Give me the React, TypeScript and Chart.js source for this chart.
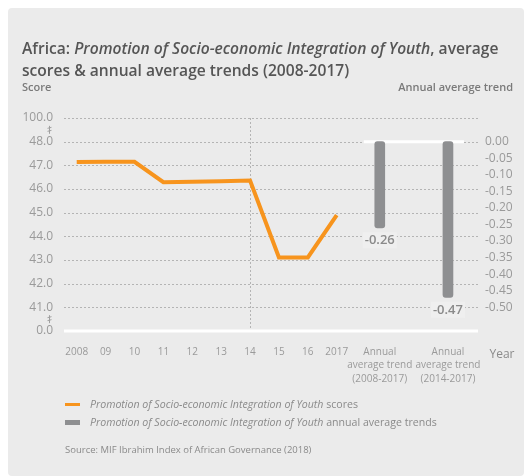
import React, { useEffect, useRef } from "react";
import { Chart, registerables } from "chart.js";

Chart.register(...registerables);

// ---- data ----
const yearLabels = ["2008", "09", "10", "11", "12", "13", "14", "15", "16", "2017"];
const scores = [47.14, 47.15, 47.15, 46.29, 46.31, 46.33, 46.36, 43.11, 43.11, 44.9];
const trendLabels = [
  ["Annual", "average trend", "(2008-2017)"],
  ["Annual", "average trend", "(2014-2017)"],
];
const trendValues = [-0.26, -0.47];
const scoreTickLabels = ["0.0", "41.0", "42.0", "43.0", "44.0", "45.0", "46.0", "47.0", "48.0", "100.0"];
const trendTicks = [0, -0.05, -0.1, -0.15, -0.2, -0.25, -0.3, -0.35, -0.4, -0.45, -0.5];

// axis break: scores 41..48 sit at slots 1..8 of the left axis
const SCORE_OFFSET = 40;
// slots of the two trend bars on the x axis (years occupy slots 0..9)
const trendSlots = [10.49, 12.85];

const ORANGE = "#F7941D";
const BAR_GRAY = "#8e8f91";
const GRID = "#b4b4b4";
const TICK = "#9a9a9a";
const FONT = "'Open Sans', 'Noto Sans', sans-serif";

const decorPlugin = {
  id: "decor",
  beforeDatasetsDraw(chart: any) {
    const ctx = chart.ctx;
    const x = chart.scales.x;
    const y = chart.scales.y;
    const y2 = chart.scales.y2;
    const L = x.left;
    const R = x.right;
    const T = y.top;
    const B = y.bottom;
    ctx.save();
    ctx.strokeStyle = GRID;
    ctx.lineWidth = 1;
    ctx.setLineDash([2, 2]);
    for (let i = 1; i < scoreTickLabels.length; i++) {
      const gy = Math.round(y.getPixelForValue(i)) + 0.5;
      ctx.beginPath();
      ctx.moveTo(L, gy);
      ctx.lineTo(R, gy);
      ctx.stroke();
    }
    const vx = Math.round(x.getPixelForValue(6)) + 0.5;
    ctx.beginPath();
    ctx.moveTo(vx, T);
    ctx.lineTo(vx, B);
    ctx.stroke();
    ctx.setLineDash([]);
    ctx.strokeStyle = "#ffffff";
    ctx.lineWidth = 3;
    const by = y.getPixelForValue(0);
    ctx.beginPath();
    ctx.moveTo(L, by);
    ctx.lineTo(R, by);
    ctx.stroke();
    const zy = y2.getPixelForValue(0);
    ctx.beginPath();
    ctx.moveTo(x.getPixelForValue(trendSlots[0]) - 16, zy);
    ctx.lineTo(x.getPixelForValue(trendSlots[1]) + 16, zy);
    ctx.stroke();
    ctx.strokeStyle = "#a0a0a0";
    ctx.lineWidth = 1;
    const bx = 41;
    const marks = [(y.getPixelForValue(9) + y.getPixelForValue(8)) / 2, (y.getPixelForValue(1) + y.getPixelForValue(0)) / 2];
    marks.forEach((my: number) => {
      ctx.beginPath();
      ctx.moveTo(bx + 0.5, my - 4);
      ctx.lineTo(bx + 0.5, my + 4);
      ctx.moveTo(bx - 1.5, my - 1.5);
      ctx.lineTo(bx + 2.5, my - 2.5);
      ctx.moveTo(bx - 1.5, my + 1.5);
      ctx.lineTo(bx + 2.5, my + 0.5);
      ctx.stroke();
    });
    ctx.restore();
  },
  afterDatasetsDraw(chart: any) {
    const { ctx } = chart;
    const x = chart.scales.x;
    const y2 = chart.scales.y2;
    ctx.save();
    ctx.font = `600 13px ${FONT}`;
    ctx.textAlign = "center";
    ctx.textBaseline = "middle";
    trendValues.forEach((v, i) => {
      const px = x.getPixelForValue(trendSlots[i]);
      const py = y2.getPixelForValue(v) + 12.5;
      const txt = v.toFixed(2);
      const w = ctx.measureText(txt).width;
      ctx.fillStyle = "#efefef";
      ctx.fillRect(px - w / 2 - 2, py - 8, w + 4, 16);
      ctx.fillStyle = "#8a8a8a";
      ctx.fillText(txt, px, py);
    });
    ctx.restore();
  },
  afterDraw(chart: any) {
    const { ctx } = chart;
    ctx.save();
    ctx.textBaseline = "middle";
    ctx.fillStyle = "#7a7a7a";
    ctx.font = `600 11px ${FONT}`;
    ctx.textAlign = "left";
    ctx.fillText("Score", 14, 80);
    ctx.textAlign = "right";
    ctx.fillText("Annual average trend", 505, 80);
    ctx.font = `12px ${FONT}`;
    ctx.fillStyle = "#8a8a8a";
    ctx.textAlign = "center";
    ctx.fillText("Year", 494, 347);
    ctx.restore();
  },
};

export default function App() {
  const ref = useRef<HTMLCanvasElement | null>(null);

  useEffect(() => {
    if (!ref.current) return;
    const chart = new Chart(ref.current, {
      type: "line",
      data: {
        datasets: [
          {
            type: "line",
            label: "scores",
            data: scores.map((s, i) => ({ x: i, y: s - SCORE_OFFSET })),
            borderColor: ORANGE,
            backgroundColor: ORANGE,
            borderWidth: 4,
            pointRadius: 0,
            tension: 0,
            yAxisID: "y",
            xAxisID: "x",
          },
          {
            type: "bar",
            label: "trends",
            data: trendValues.map((v, i) => ({ x: trendSlots[i], y: v })),
            backgroundColor: BAR_GRAY,
            barThickness: 10,
            borderRadius: 3,
            borderSkipped: false,
            yAxisID: "y2",
            xAxisID: "x",
          } as any,
        ],
      },
      plugins: [decorPlugin],
      options: {
        animation: false,
        responsive: false,
        layout: { padding: { top: 110, bottom: 85, left: 0, right: 0 } },
        plugins: { legend: { display: false }, tooltip: { enabled: false } },
        scales: {
          x: {
            type: "linear",
            offset: false,
            min: -0.44,
            max: 13.89,
            grid: { display: false, drawTicks: false, offset: false },
            border: { display: false },
            afterBuildTicks: (s: any) => {
              s.ticks = [...yearLabels.map((_, i) => ({ value: i })), ...trendSlots.map((v) => ({ value: v }))];
            },
            afterFit: (s: any) => {
              s.height = 60;
              s.paddingLeft = 0;
              s.paddingRight = 0;
            },
            ticks: {
              autoSkip: false,
              maxRotation: 0,
              padding: 14,
              color: TICK,
              font: { family: FONT, size: 10, lineHeight: 1.35 },
              callback: (_v: any, i: number) => (i < yearLabels.length ? yearLabels[i] : trendLabels[i - yearLabels.length]),
            },
          },
          y: {
            type: "linear",
            position: "left",
            min: 0,
            max: 9,
            grid: { display: false, drawTicks: false },
            border: { display: false },
            afterBuildTicks: (s: any) => {
              s.ticks = scoreTickLabels.map((_, i) => ({ value: i }));
            },
            afterFit: (s: any) => {
              s.width = 56;
              s.paddingTop = 0;
              s.paddingBottom = 0;
            },
            ticks: {
              padding: 11,
              color: TICK,
              font: { family: FONT, size: 12 },
              callback: (_v: any, i: number) => scoreTickLabels[i],
            },
          },
          y2: {
            type: "linear",
            position: "right",
            min: -0.5 - 1 / 14,
            max: 1 / 14,
            grid: { display: false, drawTicks: false },
            border: { display: false },
            afterBuildTicks: (s: any) => {
              s.ticks = trendTicks.map((v) => ({ value: v }));
            },
            afterFit: (s: any) => {
              s.width = 46;
              s.paddingTop = 0;
              s.paddingBottom = 0;
            },
            ticks: {
              padding: 7,
              color: TICK,
              font: { family: FONT, size: 12 },
              callback: (v: any) => Number(v).toFixed(2),
            },
          },
        },
      },
    });
    return () => chart.destroy();
  }, []);

  const legendText: React.CSSProperties = {
    position: "absolute",
    left: 82,
    fontSize: 10.6,
    lineHeight: "16px",
    color: "#8a8a8a",
    whiteSpace: "nowrap",
  };

  return (
    <div
      style={{
        position: "absolute",
        left: 8,
        top: 8,
        width: 516,
        height: 468,
        background: "#ebebeb",
        borderRadius: 4,
        fontFamily: FONT,
        overflow: "hidden",
      }}
    >
      <canvas ref={ref} width={516} height={468} style={{ position: "absolute", left: 0, top: 0, width: 516, height: 468 }} />
      <div
        style={{
          position: "absolute",
          left: 14,
          top: 29,
          fontSize: 15.6,
          lineHeight: "22px",
          fontWeight: 600,
          color: "#555555",
          whiteSpace: "nowrap",
        }}
      >
        <div>
          Africa: <i>Promotion of Socio-economic Integration of Youth</i>, average
        </div>
        <div>scores &amp; annual average trends (2008-2017)</div>
      </div>
      <div style={{ position: "absolute", left: 57, top: 395, width: 15, height: 3, background: ORANGE }} />
      <div style={{ ...legendText, top: 388 }}>
        <i>Promotion of Socio-economic Integration of Youth</i> scores
      </div>
      <div style={{ position: "absolute", left: 57, top: 412, width: 15, height: 5, background: BAR_GRAY }} />
      <div style={{ ...legendText, top: 406 }}>
        <i>Promotion of Socio-economic Integration of Youth</i> annual average trends
      </div>
      <div style={{ ...legendText, left: 57, top: 434, fontSize: 9.5 }}>Source: MIF Ibrahim Index of African Governance (2018)</div>
    </div>
  );
}
